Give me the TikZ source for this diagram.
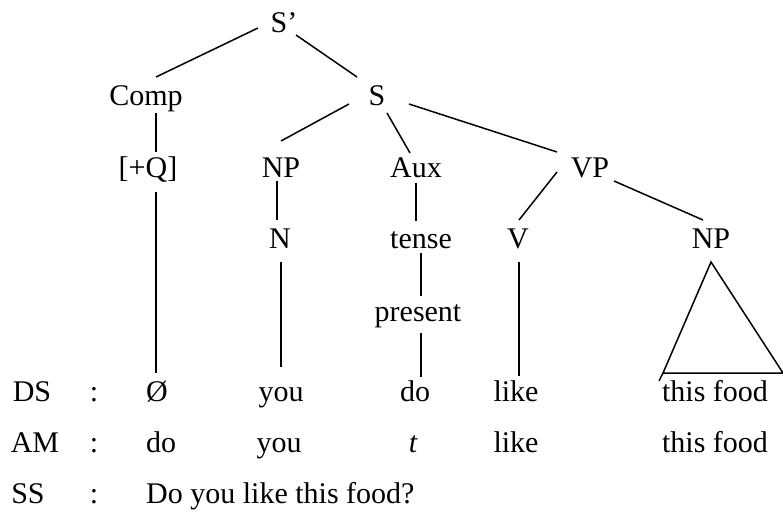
\documentclass[tikz,border=0pt]{standalone}
\usepackage{fontspec}
\setmainfont{Liberation Serif}
\begin{document}
\begin{tikzpicture}[x=1pt,y=-1pt,
  lbl/.style={inner sep=0pt,anchor=base,font=\fontsize{30}{35}\selectfont},
  br/.style={line width=1.5pt,line cap=butt}]
\useasboundingbox (0,0) rectangle (783,527);
% tree nodes
\node[lbl] (sp)   at (284,33)  {S’};
\node[lbl] (comp) at (146,105) {Comp};
\node[lbl] (s)    at (377,105) {S};
\node[lbl] (q)    at (148,177) {[+Q]};
\node[lbl] (np)   at (281,177) {NP};
\node[lbl] (aux)  at (416,177) {Aux};
\node[lbl] (vp)   at (590,177) {VP};
\node[lbl] (n)    at (280,248) {N};
\node[lbl] (tense) at (421,248) {tense};
\node[lbl] (v)    at (518,248) {V};
\node[lbl] (npb)  at (711,248) {NP};
\node[lbl] (pres) at (418,321) {present};
% DS row
\node[lbl] (ds)   at (32,401)  {DS};
\node[lbl] (dsc)  at (94,401)  {:};
\node[lbl] (zero) at (157,401) {Ø};
\node[lbl] (you1) at (281,401) {you};
\node[lbl] (do1)  at (415,401) {do};
\node[lbl] (like1) at (516,401) {like};
\node[lbl] (food1) at (715,401) {this food};
% AM row
\node[lbl] (am)   at (35,452)  {AM};
\node[lbl] (amc)  at (94,452)  {:};
\node[lbl] (do2)  at (161,452) {do};
\node[lbl] (you2) at (279,452) {you};
\node[lbl] (t)    at (413,452) {\itshape t};
\node[lbl] (like2) at (516,452) {like};
\node[lbl] (food2) at (715,452) {this food};
% SS row
\node[lbl] (ss)   at (28,503)  {SS};
\node[lbl] (ssc)  at (94,503)  {:};
\node[lbl,anchor=base west] (sent) at (146,503) {Do you like this food?};
% branches
\draw[br] ([shift={(-26,-5)}]sp.base) -- ([shift={(10,-28)}]comp.base);
\draw[br] ([shift={(12,2)}]sp.base) -- ([shift={(-20,-28)}]s.base);
\draw[br] ([shift={(-28,-1)}]s.base) -- ([shift={(0,-36)}]np.base);
\draw[br] ([shift={(10,8)}]s.base) -- ([shift={(-6,-24)}]aux.base);
\draw[br] ([shift={(32,-1)}]s.base) -- ([shift={(-33,-25)}]vp.base);
\draw[br] ([shift={(10,8)}]comp.base) -- ([shift={(8,-25)}]q.base);
\draw[br] ([shift={(8,15)}]q.base) -- ([shift={(-1,-28)}]zero.base);
\draw[br] ([shift={(-4,4)}]np.base) -- ([shift={(-3,-28)}]n.base);
\draw[br] ([shift={(1,14)}]n.base) -- ([shift={(0,-34)}]you1.base);
\draw[br] ([shift={(0,6)}]aux.base) -- ([shift={(-5,-27)}]tense.base);
\draw[br] ([shift={(0,5)}]tense.base) -- ([shift={(3,-25)}]pres.base);
\draw[br] ([shift={(3,12)}]pres.base) -- ([shift={(6,-24)}]do1.base);
\draw[br] ([shift={(-33,-5)}]vp.base) -- ([shift={(1,-28)}]v.base);
\draw[br] ([shift={(24,4)}]vp.base) -- ([shift={(-8,-28)}]npb.base);
\draw[br] ([shift={(1,14)}]v.base) -- ([shift={(3,-25)}]like1.base);
% triangle
\draw[br,line join=miter] ([shift={(-56,-20)}]food1.base) -- ([shift={(-52,-28)}]food1.base)
  -- ([shift={(0,14)}]npb.base) -- ([shift={(68,-28)}]food1.base) -- ([shift={(-52,-28)}]food1.base);
\end{tikzpicture}
\end{document}
